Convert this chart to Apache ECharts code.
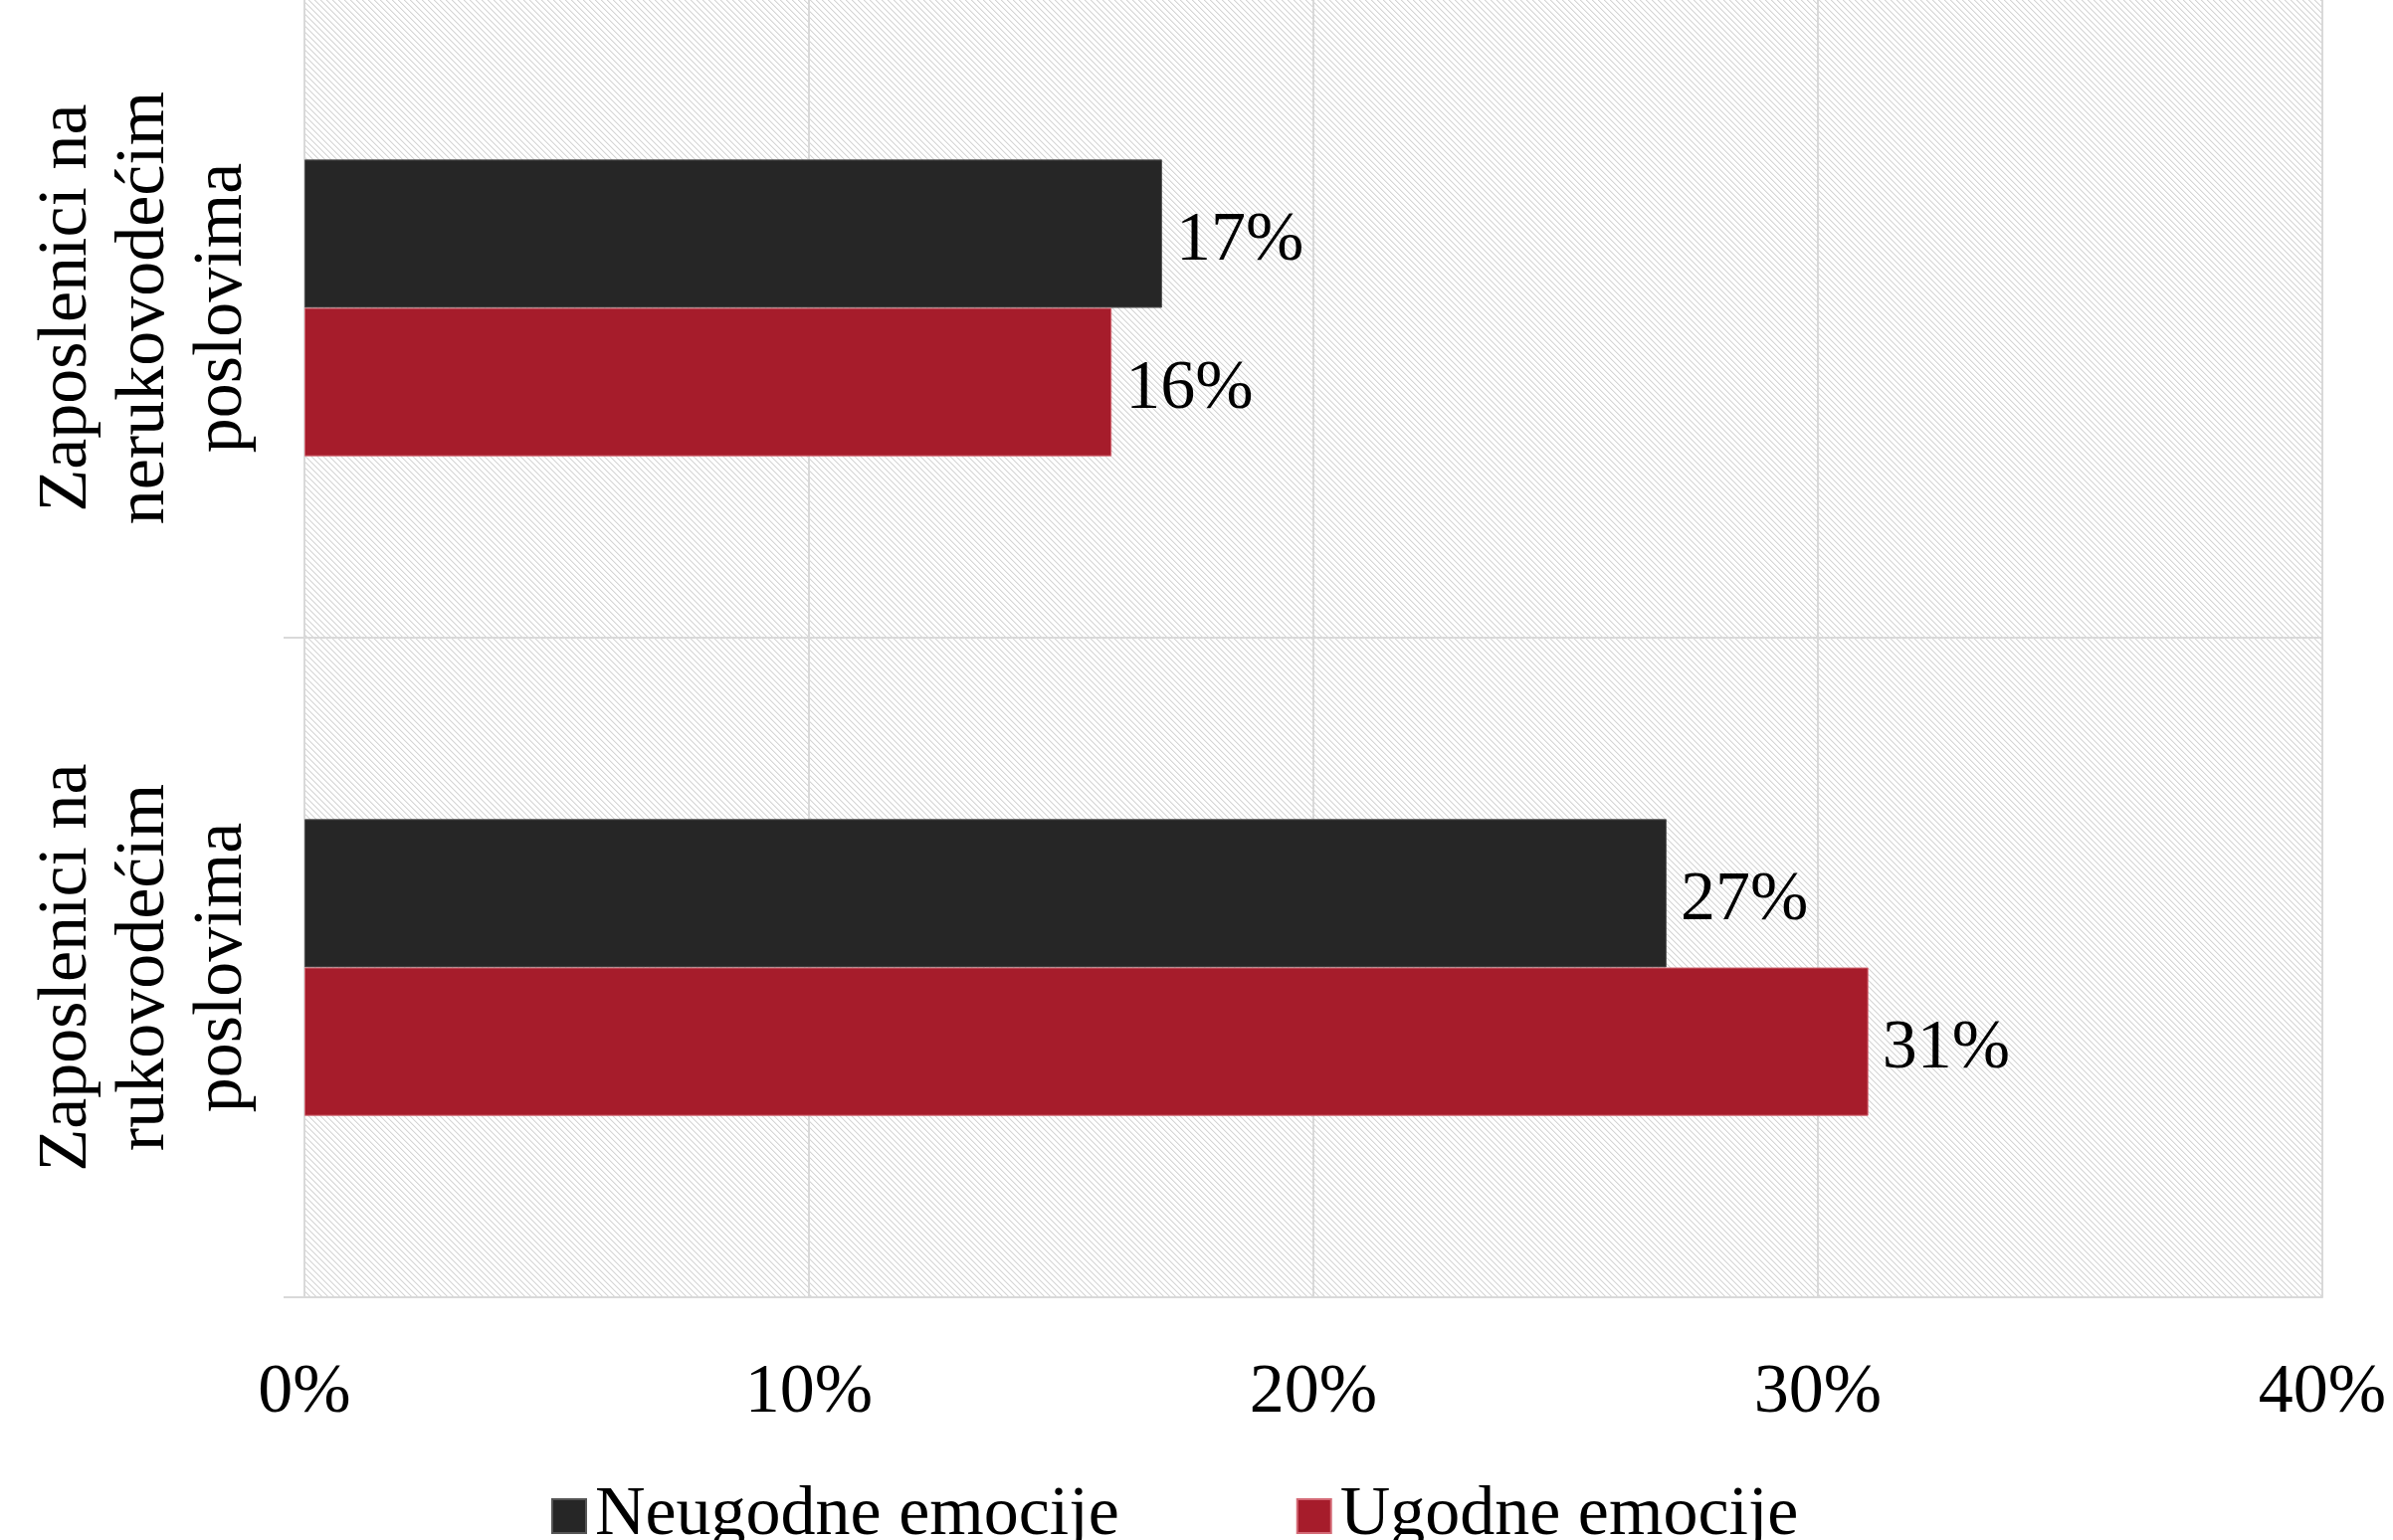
<!DOCTYPE html>
<html>
<head>
<meta charset="utf-8">
<script src="https://cdn.jsdelivr.net/npm/echarts@6/dist/echarts.min.js"></script>
<style>
  html, body { margin: 0; padding: 0; background: #fff; overflow: hidden; }
  /* naslov je izvan kadra, pa je graf pomaknut malo gore */
  #chart { width: 2405px; height: 1570px; margin-top: -22px; }
</style>
</head>
<body>
<div id="chart"></div>
<script>
// podaci
var categories = ['Zaposlenici na\nnerukovodećim\nposlovima', 'Zaposlenici na\nrukovodećim\nposlovima'];
var neugodne = [17, 27];
var ugodne = [16, 31];
var seriesNames = ['Neugodne emocije', 'Ugodne emocije'];
var xTicks = [0, 10, 20, 30, 40];

var FONT = 'Liberation Serif';

// diagonalni uzorak za pozadinu
function makeHatch() {
  var size = 6;
  var c = document.createElement('canvas');
  c.width = size; c.height = size;
  var ctx = c.getContext('2d');
  ctx.fillStyle = '#ffffff';
  ctx.fillRect(0, 0, size, size);
  for (var y = 0; y < size; y++) {
    for (var x = 0; x < size; x++) {
      var d = ((x - y) % size + size) % size;
      if (d === 0) { ctx.fillStyle = '#d6d6d6'; ctx.fillRect(x, y, 1, 1); }
      else if (d === 1) { ctx.fillStyle = '#ebebeb'; ctx.fillRect(x, y, 1, 1); }
    }
  }
  return c;
}

var myChart = echarts.init(document.getElementById('chart'));

var labelStyle = {
  show: true,
  position: 'right',
  distance: 14,
  offset: [0, 8],
  fontFamily: FONT,
  fontSize: 70,
  color: '#000',
  formatter: '{c}%'
};

var option = {
  animation: false,
  backgroundColor: '#ffffff',
  grid: {
    left: 306,
    right: 71,
    top: 0,
    bottom: 244,
    show: true,
    borderWidth: 0,
    backgroundColor: { image: makeHatch(), repeat: 'repeat' }
  },
  legend: {
    data: seriesNames,
    left: 549,
    top: 1506,
    itemWidth: 34,
    itemHeight: 34,
    itemGap: 178,
    icon: 'rect',
    textStyle: { fontFamily: FONT, fontSize: 70, color: '#000', padding: [0, 0, 0, 4] }
  },
  xAxis: {
    type: 'value',
    min: xTicks[0],
    max: xTicks[xTicks.length - 1],
    interval: 10,
    axisLine: { show: true, lineStyle: { color: '#d9d9d9', width: 2 } },
    axisTick: { show: false },
    splitLine: { show: true, lineStyle: { color: '#d9d9d9', width: 2 } },
    axisLabel: {
      margin: 62,
      fontFamily: FONT,
      fontSize: 70,
      color: '#000',
      formatter: '{value}%'
    }
  },
  yAxis: {
    type: 'category',
    inverse: true,
    data: categories,
    axisLine: { show: true, lineStyle: { color: '#d9d9d9', width: 2 } },
    axisTick: { show: true, length: 21, lineStyle: { color: '#d9d9d9', width: 2 } },
    splitLine: { show: true, lineStyle: { color: '#d9d9d9', width: 2 } },
    axisLabel: {
      rotate: 90,
      margin: 43,
      fontFamily: FONT,
      fontSize: 70,
      lineHeight: 78,
      color: '#000'
    }
  },
  series: [
    {
      name: seriesNames[0],
      type: 'bar',
      data: neugodne,
      barGap: '0%',
      barCategoryGap: '55%',
      itemStyle: { color: '#262626', borderColor: '#555555', borderWidth: 1 },
      label: labelStyle
    },
    {
      name: seriesNames[1],
      type: 'bar',
      data: ugodne,
      itemStyle: { color: '#a61c2b', borderColor: '#d46a76', borderWidth: 1 },
      label: labelStyle
    }
  ]
};

myChart.setOption(option);
</script>
</body>
</html>
